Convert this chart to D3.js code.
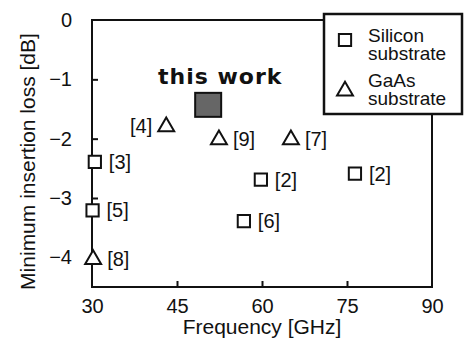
<!DOCTYPE html>
<html>
<head>
<meta charset="utf-8">
<script src="https://cdn.jsdelivr.net/npm/d3@7"></script>
<style>
  body { margin: 0; background: #fff; }
  text { font-family: "Liberation Sans", Arial, sans-serif; fill: #111; }
</style>
</head>
<body>
<div id="chart"></div>
<script>
// Silicon substrate points (frequency GHz, loss dB, reference label)
const siliconFreq = [30.5, 30.1, 59.8, 76.4, 56.8];
const siliconLoss = [-2.39, -3.21, -2.69, -2.59, -3.39];
const siliconRefs = ["[3]", "[5]", "[2]", "[2]", "[6]"];

// GaAs substrate points
const gaasFreq = [30.2, 43.1, 52.4, 65.1];
const gaasLoss = [-4.02, -1.78, -2.0, -2.0];
const gaasRefs = ["[8]", "[4]", "[9]", "[7]"];

// this work
const workFreq = [50.5];
const workLoss = [-1.43];

const xTicks = [30, 45, 60, 75, 90];
const yTicks = [0, -1, -2, -3, -4];

const width = 464, height = 340;
const margin = { top: 20, right: 32, bottom: 53, left: 92 };

const svg = d3.select("#chart").append("svg")
  .attr("width", width)
  .attr("height", height);

const x = d3.scaleLinear().domain([30, 90]).range([margin.left, width - margin.right]);
const y = d3.scaleLinear().domain([-4.5, 0]).range([height - margin.bottom, margin.top]);

// frame
svg.append("rect")
  .attr("x", x(30)).attr("y", y(0))
  .attr("width", x(90) - x(30)).attr("height", y(-4.5) - y(0))
  .attr("fill", "none").attr("stroke", "#111").attr("stroke-width", 2);

// axes with inward ticks
const xAxis = svg.append("g")
  .attr("transform", `translate(0,${y(-4.5)})`)
  .call(d3.axisBottom(x).tickValues(xTicks).tickSize(-6).tickPadding(12));
const yAxis = svg.append("g")
  .attr("transform", `translate(${x(30)},0)`)
  .call(d3.axisLeft(y).tickValues(yTicks).tickSize(-6).tickPadding(18).tickFormat(d3.format("d")));

[xAxis, yAxis].forEach(g => {
  g.select(".domain").remove();
  g.selectAll("line").attr("stroke", "#111").attr("stroke-width", 2);
  g.selectAll("text").style("font-size", "20px").attr("fill", "#111");
});
// hide the tick marks that sit on the frame corners
xAxis.selectAll(".tick").filter(d => d === 30 || d === 90).select("line").remove();
yAxis.selectAll(".tick").filter(d => d === 0).select("line").remove();
yAxis.selectAll("text").attr("dx", "-0.1em");

// axis titles
svg.append("text")
  .attr("x", (x(30) + x(90)) / 2 + 0)
  .attr("y", 334)
  .attr("text-anchor", "middle")
  .style("font-size", "21px")
  .text("Frequency [GHz]");

svg.append("text")
  .attr("transform", `translate(35,${(y(0) + y(-4.5)) / 2 + 8}) rotate(-90)`)
  .attr("text-anchor", "middle")
  .style("font-size", "21px")
  .text("Minimum insertion loss [dB]");

const sq = d3.symbol().type(d3.symbolSquare).size(150);
const tri = d3.symbol().type(d3.symbolTriangle).size(110);

// silicon squares
svg.selectAll(".si")
  .data(siliconFreq)
  .join("path")
  .attr("class", "si")
  .attr("d", sq)
  .attr("transform", (d, i) => `translate(${x(d)},${y(siliconLoss[i])})`)
  .attr("fill", "#fff").attr("stroke", "#111").attr("stroke-width", 2);

// GaAs triangles
svg.selectAll(".ga")
  .data(gaasFreq)
  .join("path")
  .attr("class", "ga")
  .attr("d", tri)
  .attr("transform", (d, i) => `translate(${x(d)},${y(gaasLoss[i]) + 1})`)
  .attr("fill", "#fff").attr("stroke", "#111").attr("stroke-width", 2);

// reference labels
svg.selectAll(".siLab")
  .data(siliconFreq)
  .join("text")
  .attr("x", d => x(d) + 14)
  .attr("y", (d, i) => y(siliconLoss[i]) + 7)
  .style("font-size", "20px")
  .text((d, i) => siliconRefs[i]);

svg.selectAll(".gaLab")
  .data(gaasFreq)
  .join("text")
  .attr("x", (d, i) => gaasRefs[i] === "[4]" ? x(d) - 14 : x(d) + 14)
  .attr("text-anchor", (d, i) => gaasRefs[i] === "[4]" ? "end" : "start")
  .attr("y", (d, i) => y(gaasLoss[i]) + 7)
  .style("font-size", "20px")
  .text((d, i) => gaasRefs[i]);

// this work
svg.selectAll(".work")
  .data(workFreq)
  .join("rect")
  .attr("x", d => x(d) - 13)
  .attr("y", (d, i) => y(workLoss[i]) - 12)
  .attr("width", 26).attr("height", 24)
  .attr("fill", "#666").attr("stroke", "#111").attr("stroke-width", 2);

svg.append("text")
  .attr("x", 158)
  .attr("y", 84)
  .style("font-family", "'DejaVu Sans', sans-serif")
  .style("font-weight", "bold")
  .style("font-size", "22px")
  .style("letter-spacing", "1px")
  .text("this work");

// legend
const legend = svg.append("g");
legend.append("rect")
  .attr("x", 324).attr("y", 14)
  .attr("width", 138).attr("height", 100)
  .attr("fill", "#fff").attr("stroke", "#111").attr("stroke-width", 2.5);
legend.append("path")
  .attr("d", sq)
  .attr("transform", "translate(345,40)")
  .attr("fill", "#fff").attr("stroke", "#111").attr("stroke-width", 2);
legend.append("path")
  .attr("d", tri)
  .attr("transform", "translate(345,91)")
  .attr("fill", "#fff").attr("stroke", "#111").attr("stroke-width", 2);

// each entry is one text with two tightly set lines, as in the original
const legendEntries = [["Silicon", "substrate", 42], ["GaAs", "substrate", 87]];
const lt = legend.selectAll(".lt")
  .data(legendEntries)
  .join("text")
  .attr("class", "lt")
  .attr("y", d => d[2])
  .style("font-size", "19px");
lt.append("tspan").attr("x", 368).text(d => d[0]);
lt.append("tspan").attr("x", 368).attr("dy", 18).text(d => d[1]);
</script>
</body>
</html>
